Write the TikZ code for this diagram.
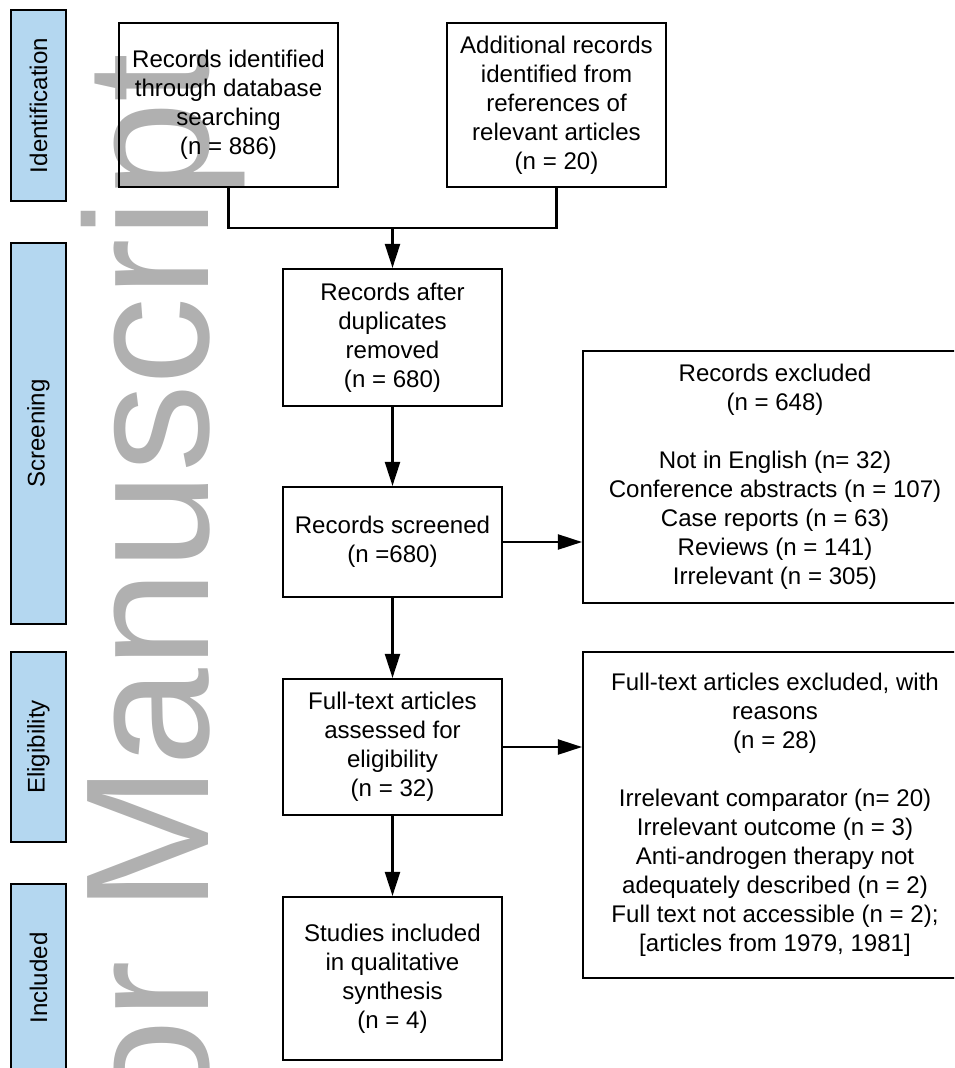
\documentclass[tikz,border=0pt]{standalone}
\usepackage{fontspec}
\setmainfont{Liberation Sans}
\usetikzlibrary{arrows.meta,calc}
\definecolor{phaseblue}{RGB}{180,215,240}
\definecolor{stampgray}{RGB}{176,176,176}

\begin{document}
\begin{tikzpicture}[x = 0.02cm, y = -0.02cm,
        font = \fontsize{13.7}{16.5}\selectfont,
        prismabox/.style = {draw, line width = 1.2pt, align = center, inner sep = 0pt, minimum width = 4.38cm},
        phase/.style = {draw, line width = 1.2pt, fill = phaseblue, rotate = 90, inner sep = 0pt, minimum height = 1.1cm},
        flow/.style = {line width = 1.2pt, -{Triangle[length = 4.8mm, width = 3mm]}}]
            % frame
            \useasboundingbox(0,0)rectangle(954,1068);
            \clip(0,0)rectangle(954,1068);
            % watermark
            \node[text = stampgray, font = \fontsize{100}{100}\selectfont, rotate = 90, anchor = base west, inner sep = 0pt](stamp)at(208,1479){Author Manuscript};
            % phases
            \node[phase, minimum width = 3.82cm](barId)at(38.5,105.5){Identification};
            \node[phase, minimum width = 7.62cm](barScr)at(38.5,433.5){Screening};
            \node[phase, minimum width = 3.8cm](barElig)at(38.5,747){Eligibility};
            \node[phase, minimum width = 3.76cm](barIncl)at(38.5,978){Included};
            % identification
            \node[prismabox, minimum height = 3.28cm](idDB)at(228.5,105){Records identified\\through database\\searching\\(n = 886)};
            \node[prismabox, minimum height = 3.28cm](idRef)at(556.5,105){Additional records\\identified from\\references of\\relevant articles\\(n = 20)};
            \coordinate(merge)at(392.5,228);
            % screening
            \node[prismabox, minimum height = 2.74cm](dedup)at(392.5,337.5){Records after\\duplicates\\removed\\(n = 680)};
            \node[prismabox, minimum height = 2.2cm](screened)at(392.5,542){Records screened\\(n =680)};
            \node[prismabox, minimum width = 7.68cm, minimum height = 5.04cm](excl)at(775,477){Records excluded\\(n = 648)\\[16.5pt]Not in English (n= 32)\\Conference abstracts (n = 107)\\Case reports (n = 63)\\Reviews (n = 141)\\Irrelevant (n = 305)};
            % eligibility
            \node[prismabox, minimum height = 2.72cm](fulltext)at(392.5,747){Full-text articles\\assessed for\\eligibility\\(n = 32)};
            \node[prismabox, minimum width = 7.68cm, minimum height = 6.52cm](exclFT)at(775,815){Full-text articles excluded, with\\reasons\\(n = 28)\\[16.5pt]Irrelevant comparator (n= 20)\\Irrelevant outcome (n = 3)\\Anti-androgen therapy not\\adequately described (n = 2)\\Full text not accessible (n = 2);\\{[articles from 1979, 1981]}};
            % included
            \node[prismabox, minimum height = 3.26cm](included)at(392.5,978.5){Studies included\\in qualitative\\synthesis\\(n = 4)};
            % connectors
            \path[draw, line width = 1.2pt](idDB.south)|-(merge)-|(idRef.south);
            \path[draw, flow](merge)to(dedup.north);
            \path[draw, flow](dedup)to(screened);
            \path[draw, flow](screened)to(fulltext);
            \path[draw, flow](fulltext)to(included);
            \path[draw, flow](screened.east)to(excl.west |- screened.east);
            \path[draw, flow](fulltext.east)to(exclFT.west |- fulltext.east);
        \end{tikzpicture}
\end{document}
